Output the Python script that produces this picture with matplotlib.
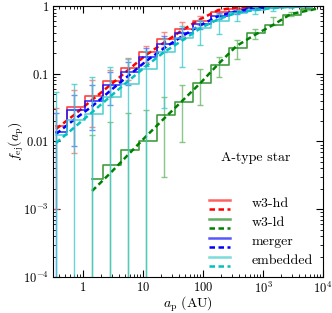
import numpy as np
import matplotlib
matplotlib.use('Agg')
from matplotlib import pyplot as plt
from matplotlib.lines import Line2D
from matplotlib.legend_handler import HandlerBase
from matplotlib.ticker import FixedLocator, FixedFormatter, LogLocator, NullFormatter

plt.rcParams['mathtext.fontset'] = 'cm'
plt.rcParams['font.family'] = ['cmr10', 'DejaVu Serif']
plt.rcParams['axes.unicode_minus'] = False

# bin centres (AU), factor-2 bins
a_cen = [0.354, 0.707, 1.41, 2.83, 5.66, 11.3, 22.6, 45.3, 90.5, 181, 362, 724, 1450, 2900, 5790]

# w3-hd
hd_f = [0.017, 0.032, 0.047, 0.078, 0.123, 0.207, 0.326, 0.457, 0.60, 0.81, 0.90, 0.956, 0.98, 0.99, 1.0]
hd_lo = [0.001, 0.0067, 0.0163, 0.045, 0.081, 0.15, 0.25, 0.36, 0.52, 0.72, 0.85, 0.93, 0.96, 0.97, 0.98]
hd_hi = [0.031, 0.058, 0.081, 0.114, 0.17, 0.26, 0.41, 0.574, 0.72, 0.90, 0.95, 0.98, 1.0, 1.0, 1.0]
hd_fit = [0.0153, 0.0246, 0.041, 0.068, 0.114, 0.19, 0.29, 0.44, 0.64, 0.87, 0.95, 0.99, 1.0, 1.0, 1.0]

# w3-ld (starts at third bin)
ld_a = a_cen[2:]
ld_f = [0.0028, 0.0045, 0.0075, 0.0102, 0.0242, 0.038, 0.074, 0.135, 0.236, 0.40, 0.52, 0.74, 0.90]
ld_lo = [0, 0, 0, 0, 0.003, 0.0098, 0.0345, 0.089, 0.163, 0.326, 0.52, 0.71, 0.87]
ld_hi = [0.0125, 0.0195, 0.026, 0.029, 0.046, 0.068, 0.116, 0.178, 0.31, 0.457, 0.68, 0.82, 0.92]
ld_fit_a = a_cen[2:] + [8300]
ld_fit = [0.00186, 0.0034, 0.0064, 0.012, 0.022, 0.040, 0.073, 0.14, 0.257, 0.373, 0.52, 0.76, 0.86, 0.92]

# merger
mg_f = [0.014, 0.029, 0.040, 0.067, 0.107, 0.178, 0.272, 0.395, 0.537, 0.72, 0.825, 0.92, 0.96, 0.98, 0.99]
mg_lo = [0, 0.0086, 0.0148, 0.035, 0.068, 0.13, 0.21, 0.32, 0.46, 0.65, 0.77, 0.88, 0.93, 0.96, 0.98]
mg_hi = [0.026, 0.049, 0.068, 0.106, 0.15, 0.24, 0.36, 0.48, 0.62, 0.80, 0.88, 0.96, 0.99, 1.0, 1.0]
mg_fit = [0.0129, 0.021, 0.033, 0.056, 0.093, 0.154, 0.24, 0.36, 0.52, 0.71, 0.84, 0.93, 0.97, 0.99, 1.0]

# embedded
em_f = [0.0125, 0.021, 0.0255, 0.046, 0.070, 0.117, 0.207, 0.337, 0.47, 0.607, 0.78, 0.87, 0.93, 0.97, 0.99]
em_lo = [0, 0, 0, 0, 0, 0, 0.031, 0.127, 0.265, 0.39, 0.59, 0.75, 0.85, 0.92, 0.96]
em_hi = [0.054, 0.071, 0.089, 0.127, 0.163, 0.22, 0.33, 0.5, 0.62, 0.76, 0.88, 0.95, 0.98, 1.0, 1.0]
em_fit = [0.0095, 0.016, 0.027, 0.046, 0.078, 0.13, 0.21, 0.31, 0.47, 0.64, 0.79, 0.87, 0.93, 0.97, 0.99]

series = [
    ('w3-hd', a_cen, hd_f, hd_lo, hd_hi, a_cen, hd_fit, '#ff2020', '#ff0000', '#ff7070'),
    ('w3-ld', ld_a, ld_f, ld_lo, ld_hi, ld_fit_a, ld_fit, '#1f8a1f', '#008000', '#70b870'),
    ('merger', a_cen, mg_f, mg_lo, mg_hi, a_cen, mg_fit, '#1010ff', '#0000ff', '#5070ff'),
    ('embedded', a_cen, em_f, em_lo, em_hi, a_cen, em_fit, '#40cccc', '#00c0c0', '#40cccc'),
]


class StackHandler(HandlerBase):
    # solid line on top, dashed line underneath
    def create_artists(self, legend, orig_handle, xdescent, ydescent,
                       width, height, fontsize, trans):
        solid, dashed = orig_handle
        y1 = height * 0.75 - ydescent
        y2 = -height * 0.15 - ydescent
        l1 = Line2D([-xdescent, width - xdescent], [y1, y1], color=solid.get_color(),
                    lw=1.8, alpha=0.7)
        l2 = Line2D([-xdescent, width - xdescent], [y2, y2], color=dashed.get_color(),
                    lw=1.8, linestyle=(0, (2.2, 1.4)))
        l1.set_transform(trans)
        l2.set_transform(trans)
        return [l1, l2]


fig = plt.figure(figsize=(3.32, 3.13), dpi=100)
ax = fig.add_axes([0.160, 0.115, 0.813, 0.866])

handles = []
labels = []
for name, a, f, lo, hi, fa, fit, c_step, c_fit, c_err in series:
    f = np.array(f)
    yerr = [f - np.array(lo), np.array(hi) - f]
    ax.errorbar(a, f, yerr=yerr, fmt='none', ecolor=c_err, elinewidth=1.0,
                capsize=2, capthick=1.0, alpha=0.8)
    s, = ax.plot(a, f, drawstyle='steps-mid', color=c_step, lw=1.2, alpha=0.85)
    d, = ax.plot(fa, fit, color=c_fit, lw=1.8, linestyle=(0, (2.2, 1.4)))
    handles.append((s, d))
    labels.append(name)

ax.set_xscale('log', nonpositive='clip')
ax.set_yscale('log', nonpositive='clip')
ax.set_xlim(10 ** -0.5, 1e4)
ax.set_ylim(1e-4, 1)

ax.xaxis.set_major_locator(FixedLocator([1, 10, 100, 1e3, 1e4]))
ax.xaxis.set_major_formatter(FixedFormatter([r'$1$', r'$10$', r'$100$', r'$10^3$', r'$10^4$']))
ax.yaxis.set_major_locator(FixedLocator([1e-4, 1e-3, 1e-2, 1e-1, 1]))
ax.yaxis.set_major_formatter(FixedFormatter([r'$10^{-4}$', r'$10^{-3}$', r'$0.01$', r'$0.1$', r'$1$']))
ax.xaxis.set_minor_locator(LogLocator(base=10, subs=np.arange(2, 10), numticks=20))
ax.yaxis.set_minor_locator(LogLocator(base=10, subs=np.arange(2, 10), numticks=20))
ax.xaxis.set_minor_formatter(NullFormatter())
ax.yaxis.set_minor_formatter(NullFormatter())
ax.tick_params(which='both', direction='in', top=True, right=True, labelsize=9)
ax.tick_params(which='major', length=5, width=0.8, pad=3)
ax.tick_params(which='minor', length=2.5, width=0.6)

ax.set_xlabel(r'$a_{\rm p}\ \mathrm{(AU)}$', fontsize=10)
ax.set_ylabel(r'$f_{\rm ej}(a_{\rm p})$', fontsize=10)
ax.xaxis.set_label_coords(0.5, -0.066)
ax.yaxis.set_label_coords(-0.10, 0.5)

ax.text(0.75, 0.44, 'A-type star', transform=ax.transAxes, ha='center', va='center', fontsize=10)

ax.legend(handles, labels, handler_map={tuple: StackHandler()}, loc='lower right',
          frameon=False, fontsize=10, handlelength=1.5, handletextpad=1.6,
          labelspacing=0.45, borderaxespad=0.3)

fig.savefig('out.png', dpi=100)
